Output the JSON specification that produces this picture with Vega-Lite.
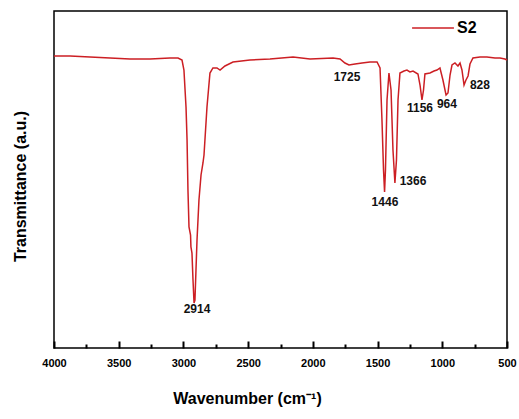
{
  "$schema": "https://vega.github.io/schema/vega-lite/v6.json",
  "width": 453,
  "height": 337,
  "autosize": {"type": "none"},
  "padding": {"left": 54, "top": 11, "right": 12, "bottom": 71},
  "background": "white",
  "config": {
    "view": {"stroke": "#000", "strokeWidth": 1.5},
    "font": "Liberation Sans"
  },
  "datasets": {
    "spectrum": [
      {"wn": 4000, "T": 86.65, "series": "S2"},
      {"wn": 3876, "T": 86.65, "series": "S2"},
      {"wn": 3722, "T": 86.35, "series": "S2"},
      {"wn": 3567, "T": 86.05, "series": "S2"},
      {"wn": 3413, "T": 85.76, "series": "S2"},
      {"wn": 3258, "T": 85.76, "series": "S2"},
      {"wn": 3104, "T": 86.05, "series": "S2"},
      {"wn": 3042, "T": 86.05, "series": "S2"},
      {"wn": 3011, "T": 85.46, "series": "S2"},
      {"wn": 2996, "T": 82.49, "series": "S2"},
      {"wn": 2980, "T": 71.51, "series": "S2"},
      {"wn": 2972, "T": 61.72, "series": "S2"},
      {"wn": 2965, "T": 46.88, "series": "S2"},
      {"wn": 2957, "T": 35.91, "series": "S2"},
      {"wn": 2945, "T": 33.53, "series": "S2"},
      {"wn": 2942, "T": 29.97, "series": "S2"},
      {"wn": 2934, "T": 28.19, "series": "S2"},
      {"wn": 2926, "T": 20.18, "series": "S2"},
      {"wn": 2918, "T": 13.35, "series": "S2"},
      {"wn": 2911, "T": 14.24, "series": "S2"},
      {"wn": 2903, "T": 23.15, "series": "S2"},
      {"wn": 2895, "T": 32.05, "series": "S2"},
      {"wn": 2880, "T": 43.92, "series": "S2"},
      {"wn": 2864, "T": 51.34, "series": "S2"},
      {"wn": 2849, "T": 54.90, "series": "S2"},
      {"wn": 2841, "T": 57.27, "series": "S2"},
      {"wn": 2818, "T": 71.51, "series": "S2"},
      {"wn": 2795, "T": 81.60, "series": "S2"},
      {"wn": 2772, "T": 83.09, "series": "S2"},
      {"wn": 2741, "T": 83.09, "series": "S2"},
      {"wn": 2717, "T": 82.49, "series": "S2"},
      {"wn": 2679, "T": 83.68, "series": "S2"},
      {"wn": 2617, "T": 84.87, "series": "S2"},
      {"wn": 2486, "T": 85.46, "series": "S2"},
      {"wn": 2331, "T": 85.76, "series": "S2"},
      {"wn": 2153, "T": 86.35, "series": "S2"},
      {"wn": 2022, "T": 85.76, "series": "S2"},
      {"wn": 1844, "T": 86.05, "series": "S2"},
      {"wn": 1790, "T": 85.76, "series": "S2"},
      {"wn": 1752, "T": 84.57, "series": "S2"},
      {"wn": 1721, "T": 83.98, "series": "S2"},
      {"wn": 1674, "T": 84.27, "series": "S2"},
      {"wn": 1620, "T": 84.57, "series": "S2"},
      {"wn": 1559, "T": 84.87, "series": "S2"},
      {"wn": 1504, "T": 84.87, "series": "S2"},
      {"wn": 1481, "T": 83.09, "series": "S2"},
      {"wn": 1466, "T": 67.66, "series": "S2"},
      {"wn": 1454, "T": 52.82, "series": "S2"},
      {"wn": 1446, "T": 46.29, "series": "S2"},
      {"wn": 1439, "T": 52.82, "series": "S2"},
      {"wn": 1427, "T": 73.59, "series": "S2"},
      {"wn": 1412, "T": 81.60, "series": "S2"},
      {"wn": 1396, "T": 76.56, "series": "S2"},
      {"wn": 1381, "T": 58.75, "series": "S2"},
      {"wn": 1366, "T": 48.96, "series": "S2"},
      {"wn": 1354, "T": 55.79, "series": "S2"},
      {"wn": 1342, "T": 73.59, "series": "S2"},
      {"wn": 1327, "T": 81.60, "series": "S2"},
      {"wn": 1296, "T": 82.20, "series": "S2"},
      {"wn": 1273, "T": 82.49, "series": "S2"},
      {"wn": 1250, "T": 81.90, "series": "S2"},
      {"wn": 1226, "T": 82.20, "series": "S2"},
      {"wn": 1188, "T": 81.31, "series": "S2"},
      {"wn": 1172, "T": 78.04, "series": "S2"},
      {"wn": 1157, "T": 73.59, "series": "S2"},
      {"wn": 1145, "T": 76.56, "series": "S2"},
      {"wn": 1134, "T": 81.31, "series": "S2"},
      {"wn": 1095, "T": 81.60, "series": "S2"},
      {"wn": 1064, "T": 82.20, "series": "S2"},
      {"wn": 1041, "T": 82.49, "series": "S2"},
      {"wn": 1018, "T": 83.09, "series": "S2"},
      {"wn": 995, "T": 79.53, "series": "S2"},
      {"wn": 971, "T": 75.08, "series": "S2"},
      {"wn": 956, "T": 75.67, "series": "S2"},
      {"wn": 940, "T": 81.01, "series": "S2"},
      {"wn": 925, "T": 83.98, "series": "S2"},
      {"wn": 902, "T": 84.57, "series": "S2"},
      {"wn": 879, "T": 83.68, "series": "S2"},
      {"wn": 863, "T": 84.57, "series": "S2"},
      {"wn": 848, "T": 82.49, "series": "S2"},
      {"wn": 832, "T": 78.04, "series": "S2"},
      {"wn": 817, "T": 79.53, "series": "S2"},
      {"wn": 801, "T": 80.72, "series": "S2"},
      {"wn": 786, "T": 84.27, "series": "S2"},
      {"wn": 763, "T": 86.05, "series": "S2"},
      {"wn": 709, "T": 86.35, "series": "S2"},
      {"wn": 655, "T": 86.35, "series": "S2"},
      {"wn": 593, "T": 86.05, "series": "S2"},
      {"wn": 554, "T": 86.05, "series": "S2"},
      {"wn": 516, "T": 85.76, "series": "S2"},
      {"wn": 500, "T": 85.46, "series": "S2"}
    ],
    "labels": [
      {"wn": 2895, "T": 11.57, "text": "2914"},
      {"wn": 1736, "T": 80.42, "text": "1725"},
      {"wn": 1443, "T": 43.32, "text": "1446"},
      {"wn": 1226, "T": 49.56, "text": "1366"},
      {"wn": 1172, "T": 71.22, "text": "1156"},
      {"wn": 964, "T": 72.40, "text": "964"},
      {"wn": 709, "T": 78.04, "text": "828"}
    ]
  },
  "resolve": {"axis": {"x": "independent"}},
  "layer": [
    {
      "data": {"name": "spectrum"},
      "mark": {"type": "line", "strokeWidth": 1.5, "interpolate": "linear"},
      "encoding": {
        "x": {
          "field": "wn", "type": "quantitative",
          "scale": {"domain": [500, 4000], "reverse": true, "nice": false, "zero": false},
          "axis": {
            "orient": "bottom",
            "values": [4000, 3500, 3000, 2500, 2000, 1500, 1000, 500],
            "format": "d",
            "grid": false,
            "offset": -7,
            "domain": false,
            "ticks": true, "tickSize": 7, "tickColor": "#000", "tickWidth": 2,
            "labelPadding": 9,
            "labelFont": "Liberation Sans", "labelFontSize": 11, "labelFontWeight": "bold", "labelColor": "#000",
            "labelFlush": false, "labelOverlap": false,
            "title": "Wavenumber (cm⁻¹)",
            "titleFont": "Liberation Sans", "titleFontSize": 16, "titleFontWeight": "bold", "titleColor": "#000",
            "titleX": 193, "titleAlign": "center", "titlePadding": 22
          }
        },
        "y": {
          "field": "T", "type": "quantitative",
          "scale": {"domain": [0, 100], "nice": false, "zero": false},
          "axis": {
            "grid": false, "ticks": false, "labels": false, "domain": false,
            "title": "Transmittance (a.u.)",
            "titleFont": "Liberation Sans", "titleFontSize": 16, "titleFontWeight": "bold", "titleColor": "#000",
            "titlePadding": 26, "titleY": 175
          }
        },
        "color": {
          "field": "series", "type": "nominal",
          "scale": {"range": ["#cc1f24"]},
          "legend": {
            "orient": "none", "legendX": 357, "legendY": -5,
            "title": null,
            "symbolType": "stroke", "symbolSize": 1750, "symbolStrokeWidth": 1.5,
            "labelFont": "Liberation Sans", "labelFontSize": 16, "labelFontWeight": "bold", "labelColor": "#000",
            "labelOffset": 2
          }
        }
      }
    },
    {
      "data": {"name": "labels"},
      "mark": {"type": "text", "font": "Liberation Sans", "fontSize": 12, "fontWeight": "bold", "color": "#111", "align": "center", "baseline": "middle"},
      "encoding": {
        "x": {
          "field": "wn", "type": "quantitative",
          "axis": {
            "orient": "bottom",
            "values": [3750, 3250, 2750, 2250, 1750, 1250, 750],
            "grid": false, "domain": false, "labels": false, "title": null,
            "offset": -4,
            "ticks": true, "tickSize": 4, "tickColor": "#000", "tickWidth": 2
          }
        },
        "y": {"field": "T", "type": "quantitative"},
        "text": {"field": "text", "type": "nominal"}
      }
    }
  ]
}
